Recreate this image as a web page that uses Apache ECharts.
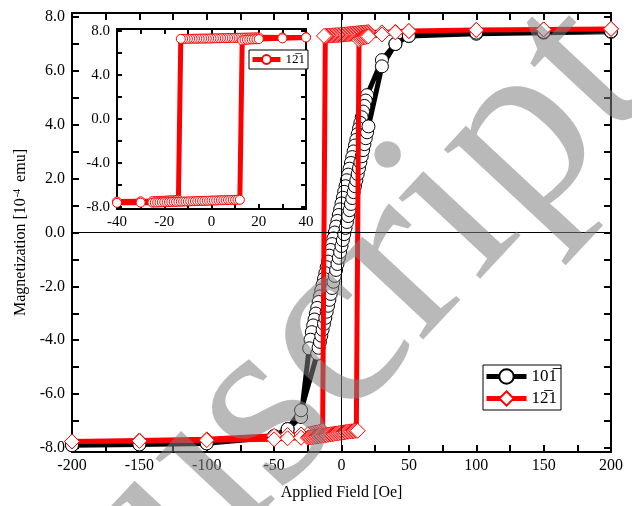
<!DOCTYPE html>
<html><head><meta charset="utf-8">
<script src="https://cdn.jsdelivr.net/npm/echarts@6/dist/echarts.min.js"></script>
<style>html,body{margin:0;padding:0;background:#fff}#c{width:632px;height:506px}</style>
</head><body><div id="c"></div>
<script>
// ---- tick labels ----
const xTickLabels = [-200, -150, -100, -50, 0, 50, 100, 150, 200];
const xTicks = [-200, -175, -150, -125, -100, -75, -50, -25, 0, 25, 50, 75, 100, 125, 150, 175, 200];
const yTickLabels = [-8, -6, -4, -2, 0, 2, 4, 6, 8];
const yTicks = [-8, -7, -6, -5, -4, -3, -2, -1, 0, 1, 2, 3, 4, 5, 6, 7, 8];
const insetXLabels = [-40, -20, 0, 20, 40];
const insetXTicks = [-40, -30, -20, -10, 0, 10, 20, 30, 40];
const insetYLabels = [-8, -4, 0, 4, 8];
const insetYTicks = [-8, -6, -4, -2, 0, 2, 4, 6, 8];

// ---- series names ----
const nameBlack = '101\u0305';
const nameRed = '12\u03051';

// ---- 10-1 sample: field sweep down (Oe) and magnetization (1e-4 emu) ----
const blackDownField = [200, 150, 100, 50, 40, 30,
  19, 18, 17, 16, 15, 14, 13, 12, 11, 10, 9, 8, 7, 6, 5, 4, 3, 2, 1, 0,
  -1, -2, -3, -4, -5, -6, -7, -8, -9, -10, -11, -12, -13, -14, -15, -16, -17, -18, -19, -20,
  -21, -22, -23, -24, -30, -40, -50, -100, -150, -200];
const blackDownM = [7.45, 7.42, 7.38, 7.30, 7.00, 6.40,
  5.10, 4.90, 4.70, 4.49, 4.28, 4.07, 3.86, 3.65, 3.44, 3.23, 3.01, 2.80, 2.58, 2.37, 2.15, 1.94, 1.72, 1.51, 1.29, 1.08,
  0.86, 0.65, 0.43, 0.22, 0.00, -0.22, -0.43, -0.65, -0.86, -1.08, -1.29, -1.51, -1.72, -1.94, -2.15, -2.37, -2.58, -2.80, -3.01, -3.23,
  -3.45, -3.70, -3.98, -4.30, -6.85, -7.30, -7.60, -7.83, -7.87, -7.90];
// ---- 10-1 sample: field sweep up ----
const blackUpField = [-200, -150, -100, -50, -40, -30,
  -18, -17, -16, -15, -14, -13, -12, -11, -10, -9, -8, -7, -6, -5, -4, -3, -2, -1, 0, 1,
  2, 3, 4, 5, 6, 7, 8, 9, 10, 11, 12, 13, 14, 15, 16, 17, 18, 19, 20,
  30, 40, 50, 100, 150, 200];
const blackUpM = [-7.90, -7.87, -7.83, -7.55, -7.30, -6.60,
  -4.50, -4.28, -4.06, -3.83, -3.61, -3.39, -3.17, -2.94, -2.72, -2.50, -2.28, -2.06, -1.83, -1.61, -1.39, -1.17, -0.94, -0.72, -0.50, -0.28,
  -0.06, 0.17, 0.39, 0.61, 0.83, 1.06, 1.28, 1.50, 1.72, 1.94, 2.17, 2.39, 2.61, 2.83, 3.06, 3.28, 3.50, 3.72, 3.94,
  6.17, 7.00, 7.30, 7.42, 7.45, 7.47];

// ---- 1-21 sample: field sweep down ----
const redDownField = [200, 150, 100, 50, 40, 30,
  20, 19, 18, 17, 16, 15, 14, 13, 12, 11, 10, 9, 8, 7, 6, 5, 4, 3, 2, 1, 0,
  -1, -2, -3, -4, -5, -6, -7, -8, -9, -10, -11, -12, -13,
  -14, -15, -16, -17, -18, -19, -20, -21, -22, -23, -24, -25,
  -30, -40, -50, -100, -150, -200];
const redDownM = [7.56, 7.54, 7.52, 7.48, 7.45, 7.43,
  7.44, 7.44, 7.43, 7.43, 7.42, 7.42, 7.41, 7.41, 7.40, 7.40, 7.39, 7.39, 7.38, 7.38, 7.37, 7.37, 7.36, 7.36, 7.35, 7.35, 7.34,
  7.34, 7.33, 7.33, 7.33, 7.32, 7.32, 7.32, 7.31, 7.31, 7.31, 7.30, 7.30, 7.30,
  -7.36, -7.38, -7.40, -7.41, -7.42, -7.43, -7.44, -7.45, -7.46, -7.47, -7.48, -7.49,
  -7.50, -7.52, -7.55, -7.68, -7.72, -7.76];
// ---- 1-21 sample: field sweep up ----
const redUpField = [-200, -150, -100, -50, -40, -30,
  -25, -24, -23, -22, -21, -20, -19, -18, -17, -16, -15, -14, -13, -12, -11, -10, -9, -8, -7, -6,
  -5, -4, -3, -2, -1, 0, 1, 2, 3, 4, 5, 6, 7, 8, 9, 10, 11, 12,
  13, 14, 15, 16, 17, 18, 19, 20,
  30, 40, 50, 100, 150, 200];
const redUpM = [-7.76, -7.74, -7.71, -7.68, -7.64, -7.62,
  -7.62, -7.61, -7.61, -7.60, -7.59, -7.58, -7.58, -7.57, -7.56, -7.55, -7.55, -7.54, -7.53, -7.52, -7.52, -7.51, -7.50, -7.49, -7.49, -7.48,
  -7.47, -7.46, -7.46, -7.45, -7.44, -7.43, -7.43, -7.42, -7.41, -7.40, -7.40, -7.39, -7.38, -7.38, -7.37, -7.37, -7.36, -7.36,
  7.15, 7.20, 7.22, 7.24, 7.25, 7.26, 7.27, 7.28,
  7.35, 7.43, 7.48, 7.52, 7.54, 7.56];

function zip(f, m) { return f.map((v, i) => [v, m[i]]); }
const blackData = zip(blackDownField, blackDownM).concat(zip(blackUpField, blackUpM));
const redData = zip(redDownField, redDownM).concat(zip(redUpField, redUpM));

const FONT = '"Liberation Serif", "Times New Roman", serif';
const axisLineStyle = { color: '#000', width: 2 };

function xAx(grid, pos, min, max, ticks, labels, showLabel, fontSize, tickLen, extra) {
  return Object.assign({
    type: 'value', gridIndex: grid, position: pos, min: min, max: max,
    axisLine: { show: true, onZero: false, lineStyle: axisLineStyle },
    axisTick: { show: true, inside: true, length: tickLen, customValues: ticks, lineStyle: { color: '#000', width: 2 } },
    axisLabel: { show: showLabel, customValues: labels, color: '#000', fontFamily: FONT, fontSize: fontSize, margin: 6 },
    splitLine: { show: false }
  }, extra || {});
}
function yAx(grid, pos, min, max, ticks, labels, showLabel, fontSize, tickLen, extra) {
  return Object.assign({
    type: 'value', gridIndex: grid, position: pos, min: min, max: max,
    axisLine: { show: true, onZero: false, lineStyle: axisLineStyle },
    axisTick: { show: true, inside: true, length: tickLen, customValues: ticks, lineStyle: { color: '#000', width: 2 } },
    axisLabel: { show: showLabel, customValues: labels, color: '#000', fontFamily: FONT, fontSize: fontSize, margin: 7,
      formatter: v => Number(v).toFixed(1) },
    splitLine: { show: false }
  }, extra || {});
}

const chart = echarts.init(document.getElementById('c'), null, { renderer: 'canvas' });
chart.setOption({
  animation: false,
  backgroundColor: '#fff',
  grid: [
    { left: 72, top: 13, right: 21, bottom: 45, show: true, borderColor: '#000', borderWidth: 2, z: 1 },
    { left: 117, top: 29, width: 189, height: 180, show: true, backgroundColor: '#fff', borderColor: '#000', borderWidth: 2, z: 10 }
  ],
  xAxis: [
    xAx(0, 'bottom', -200, 200, xTicks, xTickLabels, true, 16, 7, {
      name: 'Applied Field [Oe]', nameLocation: 'middle', nameGap: 33,
      nameTextStyle: { color: '#000', fontFamily: FONT, fontSize: 16 } }),
    xAx(0, 'top', -200, 200, xTicks, xTickLabels, false, 16, 7),
    xAx(1, 'bottom', -40, 40, insetXTicks, insetXLabels, true, 15, 5, { z: 11 }),
    xAx(1, 'top', -40, 40, insetXTicks, insetXLabels, false, 15, 5, { z: 11 })
  ],
  yAxis: [
    yAx(0, 'left', -8.15, 8.15, yTicks, yTickLabels, true, 16, 7, {
      name: 'Magnetization [10{sup|-4} emu]', nameLocation: 'middle', nameGap: 41,
      nameTextStyle: { color: '#000', fontFamily: FONT, fontSize: 16,
        rich: { sup: { fontSize: 10, fontFamily: FONT, color: '#000', verticalAlign: 'top', padding: [0, 3, 6, 1] } } } }),
    yAx(0, 'right', -8.15, 8.15, yTicks, yTickLabels, false, 16, 7),
    yAx(1, 'left', -8.2, 8.2, insetYTicks, insetYLabels, true, 15, 5, { z: 11 }),
    yAx(1, 'right', -8.2, 8.2, insetYTicks, insetYLabels, false, 15, 5, { z: 11 })
  ],
  legend: [
    {
      left: 483, top: 365, orient: 'vertical', itemWidth: 40, itemHeight: 18, itemGap: 5,
      padding: [3, 4, 3, 1], borderColor: '#000', borderWidth: 1, backgroundColor: '#fff',
      textStyle: { color: '#000', fontFamily: FONT, fontSize: 17 },
      lineStyle: { width: 5 },
      data: [nameBlack, nameRed], selectedMode: false
    },
    {
      left: 249, top: 50, orient: 'vertical', itemWidth: 28, itemHeight: 11, itemGap: 2,
      padding: [3, 3, 3, 1], borderColor: '#000', borderWidth: 1, backgroundColor: '#fff',
      textStyle: { color: '#000', fontFamily: FONT, fontSize: 13 },
      lineStyle: { width: 5 },
      data: ['inset121'], selectedMode: false, formatter: () => nameRed, z: 20
    }
  ],
  series: [
    { type: 'line', xAxisIndex: 0, yAxisIndex: 0, data: [], z: 1, silent: true,
      markLine: { symbol: 'none', silent: true, label: { show: false }, animation: false,
        lineStyle: { color: '#000', width: 1, type: 'solid' }, data: [{ yAxis: 0 }, { xAxis: 0 }] } },
    { name: nameBlack, type: 'line', xAxisIndex: 0, yAxisIndex: 0, data: blackData, z: 2,
      symbol: 'circle', symbolSize: 13, showSymbol: true,
      lineStyle: { color: '#000', width: 5 },
      itemStyle: { color: '#fff', borderColor: '#000', borderWidth: 1 } },
    { name: nameRed, type: 'line', xAxisIndex: 0, yAxisIndex: 0, data: redData, z: 3,
      symbol: 'diamond', symbolSize: 15, showSymbol: true,
      lineStyle: { color: '#ff0000', width: 5 },
      itemStyle: { color: '#fff', borderColor: '#ff0000', borderWidth: 1 } },
    { type: 'line', xAxisIndex: 2, yAxisIndex: 2, data: [], z: 11, silent: true,
      markLine: { symbol: 'none', silent: true, label: { show: false }, animation: false,
        lineStyle: { color: '#000', width: 1, type: 'solid' }, data: [{ yAxis: 0 }, { xAxis: 0 }] } },
    { name: 'inset121', type: 'line', xAxisIndex: 2, yAxisIndex: 2, data: redData, z: 12,
      symbol: 'circle', symbolSize: 9, showSymbol: true, clip: true,
      lineStyle: { color: '#ff0000', width: 5 },
      itemStyle: { color: '#fff', borderColor: '#ff0000', borderWidth: 1 } }
  ],
  graphic: [
    { type: 'text', x: 700, y: 130, rotation: 0.82, silent: true, z: 100,
      style: { text: 'Manuscript', font: '250px "Liberation Serif"', fill: 'rgba(128,128,128,0.55)',
        textAlign: 'right', textVerticalAlign: 'bottom' } }
  ]
});
</script></body></html>
